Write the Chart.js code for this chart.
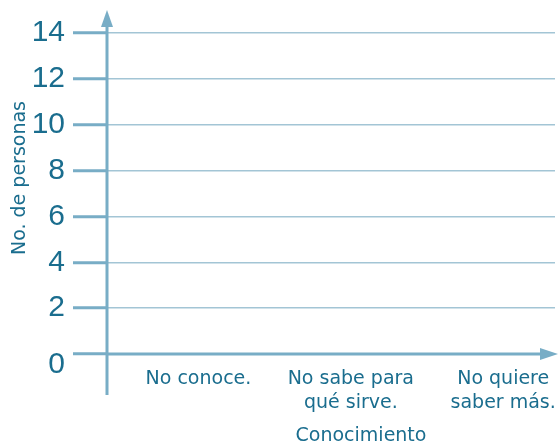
<!DOCTYPE html>
<html>
<head>
<meta charset="utf-8">
<script src="https://cdn.jsdelivr.net/npm/chart.js@4/dist/chart.umd.min.js"></script>
<style>
  body { margin: 0; background: #fff; }
  #wrap { width: 559px; height: 443px; position: relative; }
</style>
</head>
<body>
<div id="wrap"><canvas id="myChart"></canvas></div>
<script>
// Data (the chart is empty, no bars drawn)
const categorias = [['No conoce.'], ['No sabe para', 'qué sirve.'], ['No quiere', 'saber más.']];
const posiciones = [1, 2, 3];
const personas = [null, null, null];
const valoresY = [0, 2, 4, 6, 8, 10, 12, 14];
const tituloX = 'Conocimiento';
const tituloY = 'No. de personas';

// Colors
const colorTexto = '#1a6d8e';
const colorEje = '#78adc6';
const colorRejilla = '#a3c5d5';

// Axis lines, arrows and titles
const ejesPlugin = {
    id: 'ejes',
    afterDraw(chart) {
        const c = chart.ctx;
        const area = chart.chartArea;
        const yTop = chart.scales.y.getPixelForValue(14);
        const y0 = chart.scales.y.getPixelForValue(0);
        const xL = area.left;
        c.save();
        c.strokeStyle = colorEje;
        c.fillStyle = colorEje;
        c.lineWidth = 3;
        // vertical axis
        c.beginPath();
        c.moveTo(xL, 24);
        c.lineTo(xL, y0 + 41);
        c.stroke();
        // horizontal axis
        c.beginPath();
        c.moveTo(xL - 1, y0);
        c.lineTo(542, y0);
        c.stroke();
        // arrow up
        c.beginPath();
        c.moveTo(xL, yTop - 23);
        c.lineTo(xL - 6, yTop - 6);
        c.lineTo(xL + 6, yTop - 6);
        c.closePath();
        c.fill();
        // arrow right
        c.beginPath();
        c.moveTo(558, y0);
        c.lineTo(540, y0 - 6);
        c.lineTo(540, y0 + 6);
        c.closePath();
        c.fill();

        // titles
        c.fillStyle = colorTexto;
        c.font = '19px "DejaVu Sans"';
        c.textAlign = 'center';
        c.textBaseline = 'alphabetic';
        c.fillText(tituloX, 361, 441);
        c.translate(25, 178);
        c.rotate(-Math.PI / 2);
        c.fillText(tituloY, 0, 0);
        c.restore();
    }
};

const ctx = document.getElementById('myChart').getContext('2d');
const myChart = new Chart(ctx, {
    type: 'bar',
    data: {
        datasets: [
            {
                label: 'Personas',
                data: posiciones.map((p, i) => ({ x: p, y: personas[i] })),
                backgroundColor: colorEje,
            },
        ],
    },
    options: {
        responsive: true,
        maintainAspectRatio: false,
        animation: false,
        layout: {
            padding: { top: 33, right: 4, left: 0, bottom: 0 }
        },
        plugins: {
            legend: { display: false },
            tooltip: { enabled: false },
        },
        scales: {
            x: {
                type: 'linear',
                offset: false,
                min: 0.4,
                max: 3.34,
                afterBuildTicks: function(scale) {
                    scale.ticks = posiciones.map(v => ({ value: v }));
                },
                afterFit: function(scale) {
                    scale.height = 89;
                    scale.paddingLeft = 0;
                    scale.paddingRight = 0;
                },
                grid: { display: false, drawTicks: false },
                border: { display: false },
                ticks: {
                    autoSkip: false,
                    maxRotation: 0,
                    minRotation: 0,
                    padding: 13,
                    color: colorTexto,
                    font: { family: 'DejaVu Sans', size: 19, lineHeight: '24px' },
                    callback: function(value) {
                        return categorias[posiciones.indexOf(value)];
                    },
                },
            },
            y: {
                min: 0,
                max: 14,
                afterBuildTicks: function(scale) {
                    scale.ticks = valoresY.map(v => ({ value: v }));
                },
                afterFit: function(scale) {
                    scale.width = 107;
                    scale.paddingTop = 0;
                    scale.paddingBottom = 0;
                },
                grid: {
                    color: colorRejilla,
                    lineWidth: 1.5,
                    tickColor: colorEje,
                    tickWidth: 3,
                    tickLength: 34,
                },
                border: { display: false },
                ticks: {
                    autoSkip: false,
                    padding: 8,
                    color: colorTexto,
                    font: { family: '"Liberation Sans Narrow", "Liberation Sans"', size: 30, lineHeight: '22px' },
                    callback: function(value) {
                        // the zero label sits a bit below its line
                        return value === 0 ? ['', '0'] : String(value);
                    },
                },
            }
        }
    },
    plugins: [ejesPlugin]
});
</script>
</body>
</html>
